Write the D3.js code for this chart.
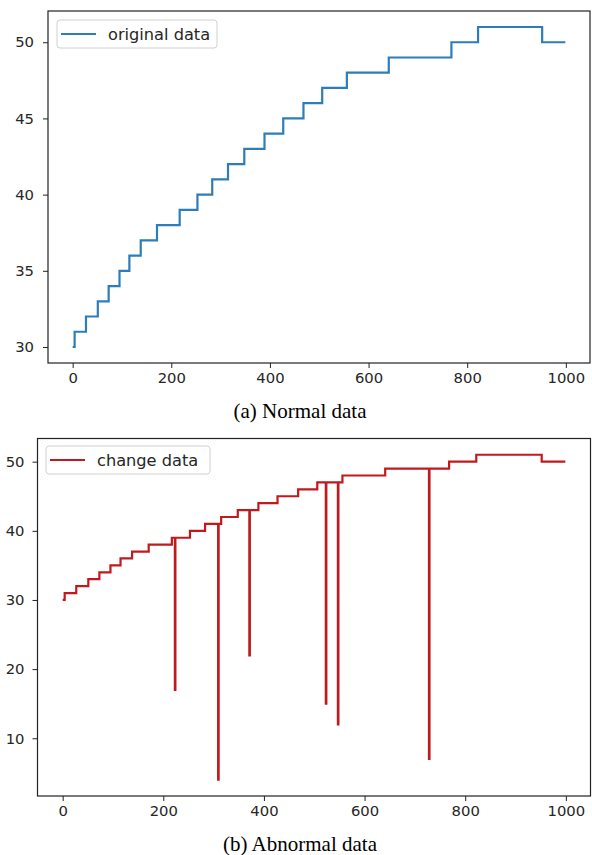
<!DOCTYPE html>
<html>
<head>
<meta charset="utf-8">
<script src="https://cdn.jsdelivr.net/npm/d3@7/dist/d3.min.js"></script>
<style>
  html, body { margin: 0; padding: 0; background: #fff; }
  svg { display: block; }
</style>
</head>
<body>
<svg id="chart" width="592" height="855"></svg>
<script>
// ---- data ----
const stepX = [0, 4, 27, 51, 73, 95, 115, 138, 171, 217, 253, 283, 315, 348, 389, 427, 468, 506, 556, 641, 768, 822, 952];
const stepY = [30, 31, 32, 33, 34, 35, 36, 37, 38, 39, 40, 41, 42, 43, 44, 45, 46, 47, 48, 49, 50, 51, 50];
const lastX = 999;
const anomalyX = [223, 309, 371, 523, 547, 728];
const anomalyY = [17, 4, 22, 15, 12, 7];
const xTicks = [0, 200, 400, 600, 800, 1000];
const yTicksTop = [30, 35, 40, 45, 50];
const yTicksBottom = [10, 20, 30, 40, 50];
const seriesNames = ["original data", "change data"];
const captions = ["(a) Normal data", "(b) Abnormal data"];

// ---- build series ----
const original = stepX.map((x, i) => ({x, y: stepY[i]}));
original.push({x: lastX, y: stepY[stepY.length - 1]});

function levelAt(x) {
  let v = stepY[0];
  for (let i = 0; i < stepX.length; i++) if (stepX[i] <= x) v = stepY[i];
  return v;
}
let changed = original.slice();
anomalyX.forEach((ax, i) => {
  changed.push({x: ax, y: anomalyY[i]});
  changed.push({x: ax + 1, y: levelAt(ax + 1)});
});
changed.sort((a, b) => a.x - b.x);

const svg = d3.select("#chart");
const tickFont = "DejaVu Sans, sans-serif";

function panel(cfg) {
  const x = d3.scaleLinear().domain([-50, 1049]).range([cfg.left, cfg.right]);
  const y = d3.scaleLinear().domain(cfg.yDomain).range([cfg.bottom, cfg.top]);
  const g = svg.append("g");

  const line = d3.line().x(d => x(d.x)).y(d => y(d.y)).curve(d3.curveStepAfter);
  g.append("path").datum(cfg.data)
    .attr("fill", "none").attr("stroke", cfg.color)
    .attr("stroke-width", 2.2).attr("stroke-linejoin", "miter")
    .attr("d", line);

  // frame
  g.append("rect")
    .attr("x", cfg.left).attr("y", cfg.top)
    .attr("width", cfg.right - cfg.left).attr("height", cfg.bottom - cfg.top)
    .attr("fill", "none").attr("stroke", "#222").attr("stroke-width", 1.2);

  const xa = g.append("g").attr("transform", `translate(0,${cfg.bottom})`)
    .call(d3.axisBottom(x).tickValues(xTicks).tickSize(5).tickPadding(4).tickFormat(d3.format("d")));
  const ya = g.append("g").attr("transform", `translate(${cfg.left},0)`)
    .call(d3.axisLeft(y).tickValues(cfg.yTicks).tickSize(5).tickPadding(cfg.ypad).tickFormat(d3.format("d")));
  [xa, ya].forEach(a => {
    a.select(".domain").remove();
    a.selectAll(".tick line").attr("stroke", "#222");
    a.selectAll(".tick text").attr("fill", "#262626")
      .style("font-family", tickFont).style("font-size", "14.8px");
  });

  // legend
  const lg = g.append("g");
  lg.append("rect").attr("x", cfg.lx).attr("y", cfg.ly).attr("width", cfg.lw).attr("height", 28)
    .attr("rx", 3).attr("fill", "#fff").attr("stroke", "#d0d0d0");
  lg.append("line").attr("x1", cfg.lx + 4).attr("x2", cfg.lx + 39)
    .attr("y1", cfg.ly + 14).attr("y2", cfg.ly + 14)
    .attr("stroke", cfg.color).attr("stroke-width", 2.2);
  lg.append("text").attr("x", cfg.lx + 51).attr("y", cfg.ly + 19.5)
    .attr("fill", "#262626").style("font-family", tickFont).style("font-size", "16.2px")
    .text(cfg.name);

  svg.append("text").attr("x", 300).attr("y", cfg.capY)
    .attr("text-anchor", "middle").attr("fill", "#000")
    .style("font-family", "Liberation Serif, Times New Roman, serif").style("font-size", "21px")
    .text(cfg.caption);
}

panel({left: 48, right: 590, top: 11, bottom: 363, yDomain: [28.95, 52.05], yTicks: yTicksTop, ypad: 9,
  data: original, color: "#2d7dbb", name: seriesNames[0], caption: captions[0], capY: 418,
  lx: 57, ly: 20, lw: 160});
panel({left: 37.5, right: 590.5, top: 438.5, bottom: 796, yDomain: [1.65, 53.35], yTicks: yTicksBottom, ypad: 8,
  data: changed, color: "#c01a1e", name: seriesNames[1], caption: captions[1], capY: 851,
  lx: 46, ly: 446, lw: 164});
</script>
</body>
</html>
